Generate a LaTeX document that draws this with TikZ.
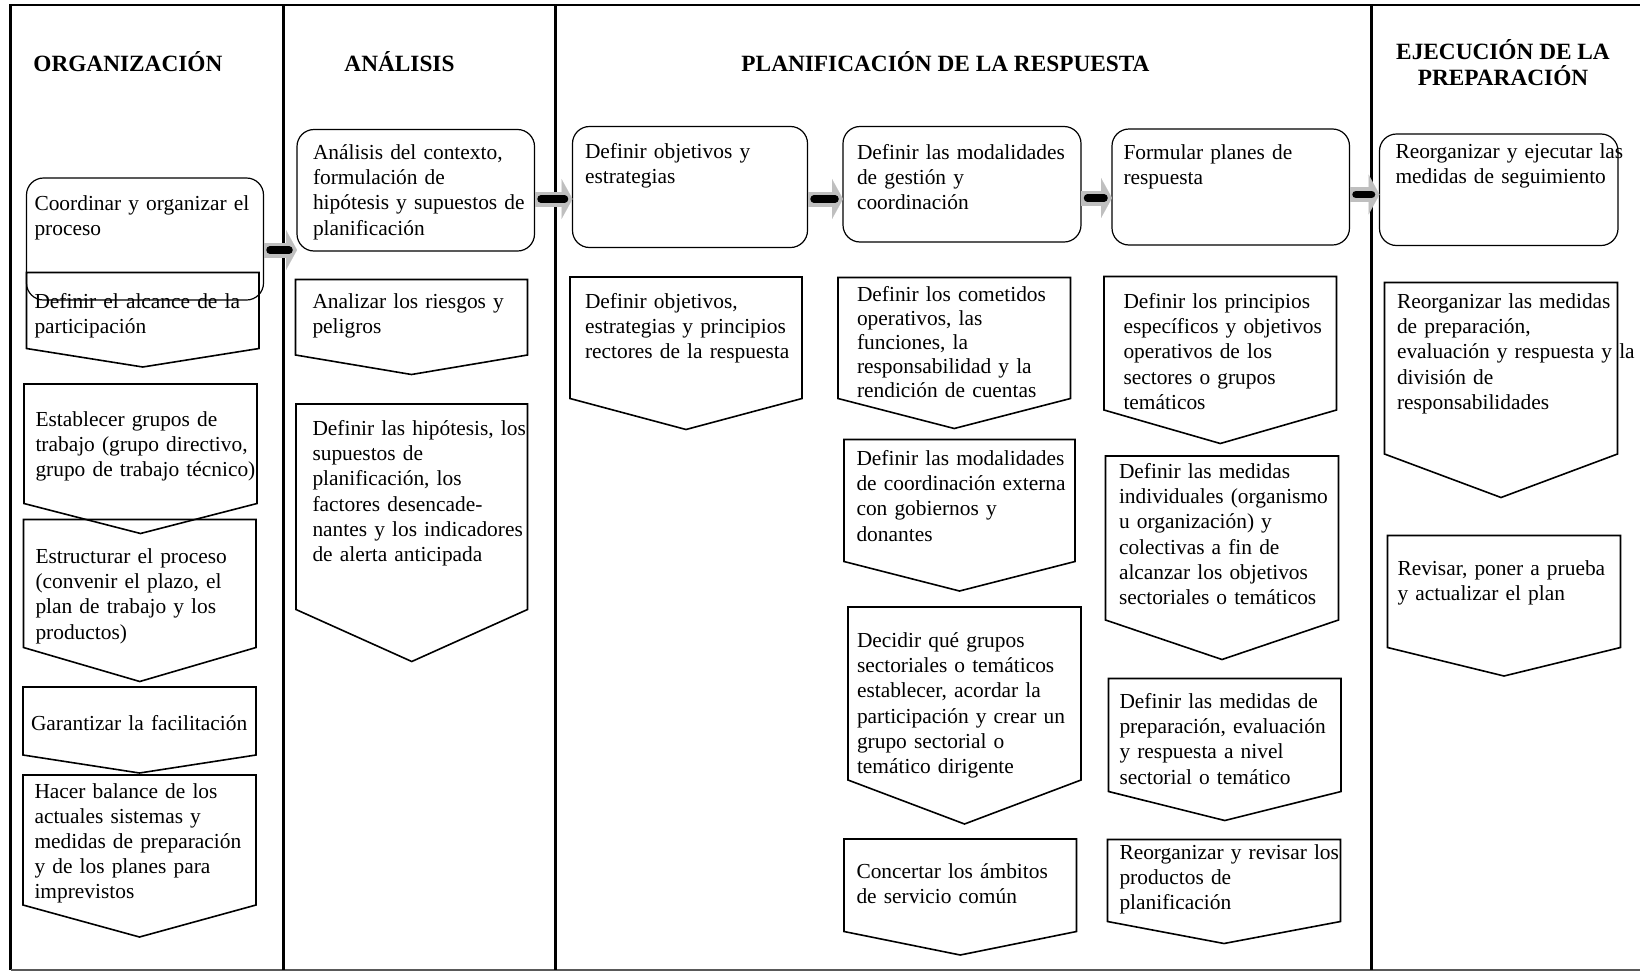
\documentclass[tikz,border=0pt]{standalone}
\usepackage{fontspec}
\setmainfont{Liberation Serif}
\usetikzlibrary{arrows.meta}

\newcommand\bodyfont{\fontsize{21.4}{25.2}\selectfont}
\newcommand\headfont{\fontsize{23.3}{26}\selectfont\bfseries}
% lines kept as typed, never rebroken
\newcommand\lns[1]{\begin{tabular}[t]{@{}l@{}}#1\end{tabular}}

\tikzset{
  txt/.style={anchor=north west, inner ysep=0pt, outer sep=0pt, font=\bodyfont},
  rbox/.style={txt, draw, line width=1.2pt, rounded corners=17pt},
  pbox/.style={txt},
  chevron/.style={line width=1.6pt},
  head/.style={font=\headfont, anchor=base, inner sep=0pt},
  flow/.style={draw=black!25, line width=15pt,
    -{Triangle[width=40pt,length=11pt,line width=0.1pt]},
    postaction={draw=black, line width=7.5pt, line cap=round, -,
                shorten <=6.5pt, shorten >=8pt}}
}

\begin{document}
\begin{tikzpicture}[x=1pt, y=-1pt]
  \useasboundingbox (0,0) rectangle (1640,972);

  % frame and lanes
  \draw[line width=2.2pt] (10.5,970) -- (10.5,5) -- (1640,5);
  \draw[line width=2pt, black!65] (10.5,969.5) -- (1640,969.5);
  \draw[line width=2.2pt] (283.5,5) -- (283.5,970);
  \draw[line width=2.2pt] (555.5,5) -- (555.5,970);
  \draw[line width=2.2pt] (1371.5,5) -- (1371.5,970);

  \node (org)  [head] at (127.9,71.7) {ORGANIZACIÓN};
  \node (ana)  [head] at (399.5,71.7) {ANÁLISIS};
  \node (plan) [head] at (945.5,71.7) {PLANIFICACIÓN DE LA RESPUESTA};
  \node (eje)  [head, align=center] at (1503,85) {EJECUCIÓN DE LA\\PREPARACIÓN};

  % organizacion
  \node (coord) [rbox, inner xsep=8pt, text width=221pt, text height=32.5pt, text depth=89.5pt]
        at (26.5,178) {\lns{Coordinar y organizar el\\proceso}};
  \node (alcance) [pbox, inner xsep=8pt, text width=216.5pt, text height=35.5pt, text depth=40.5pt]
        at (26.5,272.5) {\lns{Definir el alcance de la\\participación}};
  \node (grupos) [pbox, inner xsep=11.5pt, text width=210pt, text height=42.5pt, text depth=77pt]
        at (24,384) {\lns{Establecer grupos de\\trabajo (grupo directivo,\\grupo de trabajo técnico)}};
  \node (estructurar) [pbox, inner xsep=12pt, text width=208.5pt, text height=44pt, text depth=84pt]
        at (23.5,519.5) {\lns{Estructurar el proceso\\(convenir el plazo, el\\plan de trabajo y los\\productos)}};
  \node (garantizar) [pbox, inner xsep=8pt, text width=217pt, text height=43pt, text depth=25pt]
        at (23,687) {\lns{Garantizar la facilitación}};
  \node (balance) [pbox, inner xsep=11.5pt, text width=210pt, text height=23pt, text depth=107pt]
        at (23,775) {\lns{Hacer balance de los\\actuales sistemas y\\medidas de preparación\\y de los planes para\\imprevistos}};

  % analisis
  \node (analisis) [rbox, inner xsep=16pt, text width=205.5pt, text height=30pt, text depth=91.5pt]
        at (297,129.5) {\lns{Análisis del contexto,\\formulación de\\hipótesis y supuestos de\\planificación}};
  \node (riesgos) [pbox, inner xsep=17pt, text width=198pt, text height=29pt, text depth=46.5pt]
        at (295.5,279.5) {\lns{Analizar los riesgos y\\peligros}};
  \node (hipotesis) [pbox, inner xsep=16.5pt, text width=198.5pt, text height=31.5pt, text depth=174pt]
        at (296,404) {\lns{Definir las hipótesis, los\\supuestos de\\planificación, los\\factores desencade-\\nantes y los indicadores\\de alerta anticipada}};

  % planificacion
  \node (objetivos) [rbox, inner xsep=12.5pt, text width=210pt, text height=32pt, text depth=89pt]
        at (572.5,126.5) {\lns{Definir objetivos y\\estrategias}};
  \node (rectores) [pbox, inner xsep=15pt, text width=202pt, text height=31.5pt, text depth=90pt]
        at (570,277) {\lns{Definir objetivos,\\estrategias y principios\\rectores de la respuesta}};
  \node (modalidades) [rbox, inner xsep=14pt, text width=210pt, text height=32.5pt, text depth=83pt]
        at (843,126.5) {\lns{Definir las modalidades\\de gestión y\\coordinación}};
  \node (cometidos) [pbox, font=\fontsize{21.4}{24}\selectfont, inner xsep=19pt, text width=194.5pt,
        text height=24pt, text depth=97pt]
        at (838,277.5) {\lns{Definir los cometidos\\operativos, las\\funciones, la\\responsabilidad y la\\rendición de cuentas}};
  \node (externa) [pbox, inner xsep=12.5pt, text width=206pt, text height=26pt, text depth=96pt]
        at (844,439.5) {\lns{Definir las modalidades\\de coordinación externa\\con gobiernos y\\donantes}};
  \node (decidir) [pbox, inner xsep=9pt, text width=215pt, text height=40.5pt, text depth=132.5pt]
        at (848,607) {\lns{Decidir qué grupos\\sectoriales o temáticos\\establecer, acordar la\\participación y crear un\\grupo sectorial o\\temático dirigente}};
  \node (concertar) [pbox, inner xsep=12.5pt, text width=207.5pt, text height=39.5pt, text depth=53pt]
        at (844,839) {\lns{Concertar los ámbitos\\de servicio común}};

  \node (formular) [rbox, inner xsep=11.5pt, text width=214.5pt, text height=30.5pt, text depth=85.5pt]
        at (1112,129) {\lns{Formular planes de\\respuesta}};
  \node (principios) [pbox, inner xsep=19.5pt, text width=193.5pt, text height=32pt, text depth=101.5pt]
        at (1104,276.5) {\lns{Definir los principios\\específicos y objetivos\\operativos de los\\sectores o grupos\\temáticos}};
  \node (individuales) [pbox, inner xsep=13.5pt, text width=206pt, text height=22.5pt, text depth=141.5pt]
        at (1105.5,456) {\lns{Definir las medidas\\individuales (organismo\\u organización) y\\colectivas a fin de\\alcanzar los objetivos\\sectoriales o temáticos}};
  \node (sectorial) [pbox, inner xsep=11pt, text width=210.5pt, text height=30pt, text depth=83pt]
        at (1108.5,678.5) {\lns{Definir las medidas de\\preparación, evaluación\\y respuesta a nivel\\sectorial o temático}};
  \node (productos) [pbox, inner xsep=12pt, text width=209pt, text height=20pt, text depth=62pt]
        at (1107.5,839.5) {\lns{Reorganizar y revisar los\\productos de\\planificación}};

  % ejecucion
  \node (ejecutar) [rbox, inner xsep=16pt, text width=206.5pt, text height=24.5pt, text depth=87pt]
        at (1379.5,134) {\lns{Reorganizar y ejecutar las\\medidas de seguimiento}};
  \node (reorganizar) [pbox, inner xsep=12.5pt, text width=208pt, text height=26pt, text depth=145.5pt]
        at (1384.5,282.5) {\lns{Reorganizar las medidas\\de preparación,\\evaluación y respuesta y la\\división de\\responsabilidades}};
  \node (revisar) [pbox, inner xsep=10pt, text width=213pt, text height=39.5pt, text depth=72.5pt]
        at (1387.5,535.5) {\lns{Revisar, poner a prueba\\y actualizar el plan}};

  % chevron outlines
  \foreach \n/\d in {alcance/18.5, grupos/30, estructurar/34, garantizar/18, balance/32,
                     riesgos/19.5, hipotesis/52, rectores/31, cometidos/30, externa/29.5,
                     decidir/44, concertar/23.5, principios/33.5, individuales/39.5,
                     sectorial/29, productos/22, reorganizar/43.5, revisar/28.5}
    \draw[chevron] (\n.north west) -- (\n.north east) -- (\n.south east)
                   -- ([yshift=-\d pt]\n.south) -- (\n.south west) -- cycle;

  % flow between steps
  \draw[flow] ([yshift=-11pt]coord.east) -- ([yshift=-59.75pt]analisis.west);
  \draw[flow] ([yshift=-8.75pt]analisis.east) -- ([yshift=-12pt]objetivos.west);
  \draw[flow] ([yshift=-12pt]objetivos.east) -- ([yshift=-14.75pt]modalidades.west);
  \draw[flow] ([yshift=-13.75pt]modalidades.east) -- ([yshift=-11pt]formular.west);
  \draw[flow] ([yshift=-7.5pt]formular.east) -- ([yshift=-4.75pt]ejecutar.west);
\end{tikzpicture}
\end{document}
